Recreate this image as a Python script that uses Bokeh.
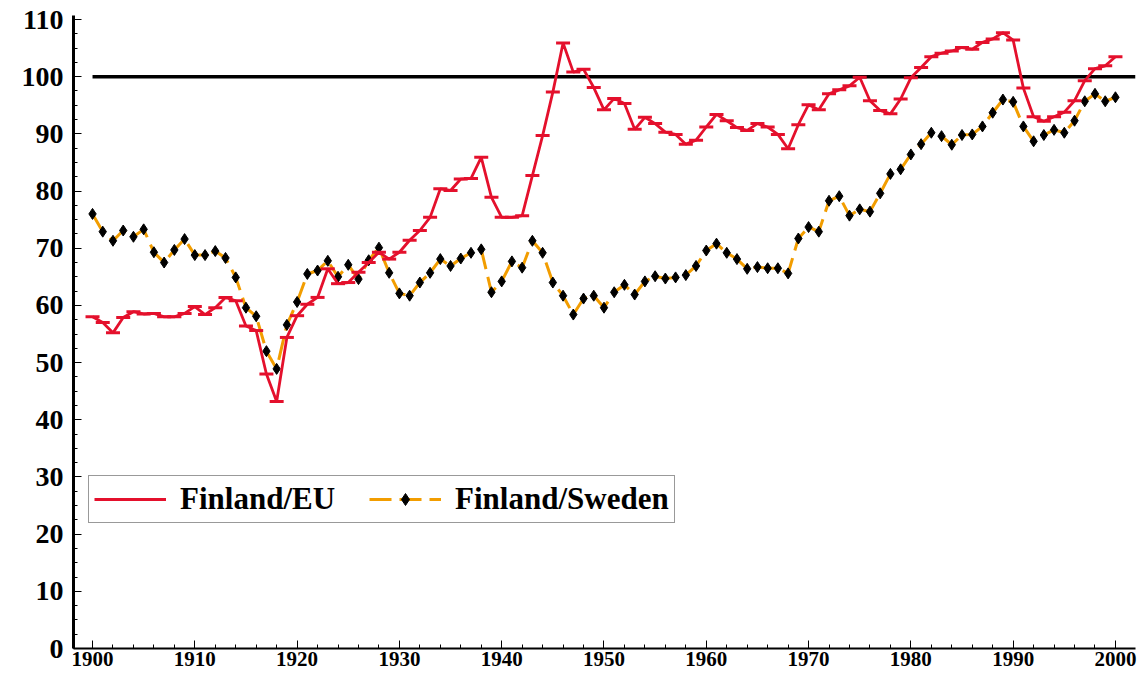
from bokeh.plotting import figure
from bokeh.models import Range1d, SingleIntervalTicker, Legend, LegendItem, ColumnDataSource
from bokeh.embed import file_html
from bokeh.resources import INLINE

years = list(range(1900, 2001))

finland_eu = [
    58.0, 57.0, 55.2, 57.9, 58.9, 58.5, 58.6, 58.0, 58.0, 58.6,
    59.8, 58.4, 59.6, 61.4, 60.8, 56.4, 55.6, 48.0, 43.2, 54.4,
    58.2, 60.2, 61.4, 66.4, 63.8, 64.0, 65.8, 67.5, 69.3, 68.1,
    69.3, 71.4, 73.1, 75.4, 80.4, 80.1, 82.1, 82.2, 85.9, 78.9,
    75.4, 75.4, 75.7, 82.7, 89.7, 97.3, 105.9, 100.8, 101.3, 98.1,
    94.2, 96.2, 95.3, 90.8, 92.9, 91.8, 90.3, 89.9, 88.2, 88.9,
    91.2, 93.4, 92.3, 91.1, 90.6, 91.8, 91.2, 89.9, 87.4, 91.6,
    95.1, 94.2, 97.0, 97.7, 98.4, 99.9, 95.8, 94.1, 93.5, 96.1,
    99.8, 101.6, 103.5, 104.1, 104.5, 105.1, 104.8, 106.0, 106.6, 107.7,
    106.4, 98.0, 93.0, 92.2, 93.0, 93.8, 95.8, 99.3, 101.4, 101.9,
    103.5,
]

finland_sweden = [
    76.0, 72.9, 71.3, 73.1, 72.0, 73.3, 69.3, 67.5, 69.7, 71.6,
    68.8, 68.8, 69.5, 68.3, 64.9, 59.6, 58.1, 52.0, 48.9, 56.6,
    60.6, 65.5, 66.1, 67.8, 65.0, 67.1, 64.6, 67.9, 70.1, 65.7,
    62.1, 61.7, 64.0, 65.7, 68.1, 66.9, 68.2, 69.2, 69.8, 62.3,
    64.2, 67.7, 66.6, 71.3, 69.2, 64.0, 61.7, 58.4, 61.2, 61.7,
    59.6, 62.3, 63.6, 61.9, 64.2, 65.1, 64.7, 64.9, 65.3, 66.9,
    69.6, 70.8, 69.2, 68.1, 66.4, 66.7, 66.5, 66.5, 65.6, 71.7,
    73.7, 72.9, 78.3, 79.1, 75.7, 76.8, 76.4, 79.6, 83.0, 83.8,
    86.4, 88.2, 90.2, 89.6, 88.1, 89.8, 89.9, 91.3, 93.7, 96.0,
    95.6, 91.3, 88.7, 89.8, 90.7, 90.2, 92.3, 95.7, 97.0, 95.7,
    96.4,
]

series_labels = ["Finland/EU", "Finland/Sweden"]
ref_level = 100

RED = "#e4102c"
ORANGE = "#f29d00"
FONT = "Liberation Serif"

x_range = Range1d(1898.14, 2001.96)
p = figure(
    frame_width=1062, frame_height=633,
    x_range=x_range, y_range=Range1d(0, 110.7),
    output_backend="svg", toolbar_location=None,
    min_border_left=73, min_border_top=15, min_border_right=3, min_border_bottom=24,
    background_fill_color="white", border_fill_color="white",
)
p.outline_line_color = None
p.xgrid.visible = False
p.ygrid.visible = False

# axes
p.yaxis.ticker = SingleIntervalTicker(interval=10, num_minor_ticks=4)
p.xaxis.ticker = SingleIntervalTicker(interval=10, num_minor_ticks=5)
for ax in (p.xaxis, p.yaxis):
    ax.axis_line_color = "black"
    ax.major_tick_line_color = "black"
    ax.minor_tick_line_color = "black"
    ax.major_tick_out = 0
    ax.minor_tick_out = 0
    ax.major_tick_in = 8
    ax.minor_tick_in = 4
    ax.major_label_text_font = FONT
    ax.major_label_text_font_style = "bold"
    ax.major_label_text_color = "black"
p.yaxis.axis_line_width = 3
p.xaxis.axis_line_width = 2
p.yaxis.major_label_text_font_size = "28px"
p.xaxis.major_label_text_font_size = "21px"
p.yaxis.major_label_standoff = 10
p.xaxis.major_label_standoff = 3

# reference line at 100
p.segment(x0=years[0], y0=ref_level, x1=x_range.end, y1=ref_level,
          line_color="black", line_width=3.5)

src = ColumnDataSource(dict(year=years, eu=finland_eu, swe=finland_sweden))

# Finland/Sweden
r_swe_line = p.line("year", "swe", source=src, line_color=ORANGE, line_width=3, line_dash="22 8")
r_swe_pts = p.scatter("year", "swe", source=src, marker="diamond", size=11,
                      fill_color="black", line_color="black")

# Finland/EU
r_eu_line = p.line("year", "eu", source=src, line_color=RED, line_width=2.8)
r_eu_pts = p.scatter("year", "eu", source=src, marker="dash", size=14,
                     line_color=RED, line_width=3)

legend = Legend(
    items=[
        LegendItem(label=series_labels[0], renderers=[r_eu_line]),
        LegendItem(label=series_labels[1], renderers=[r_swe_line, r_swe_pts]),
    ],
    location=(15, 125), orientation="horizontal",
    label_text_font=FONT, label_text_font_style="bold", label_text_font_size="31px",
    label_text_color="black",
    glyph_width=72, glyph_height=30, label_height=30, label_standoff=14,
    spacing=34, padding=5, margin=0,
    border_line_color="#333333", border_line_width=1,
    background_fill_color="white", background_fill_alpha=1.0,
)
p.add_layout(legend)

open("out.html", "w").write(file_html(p, INLINE))
